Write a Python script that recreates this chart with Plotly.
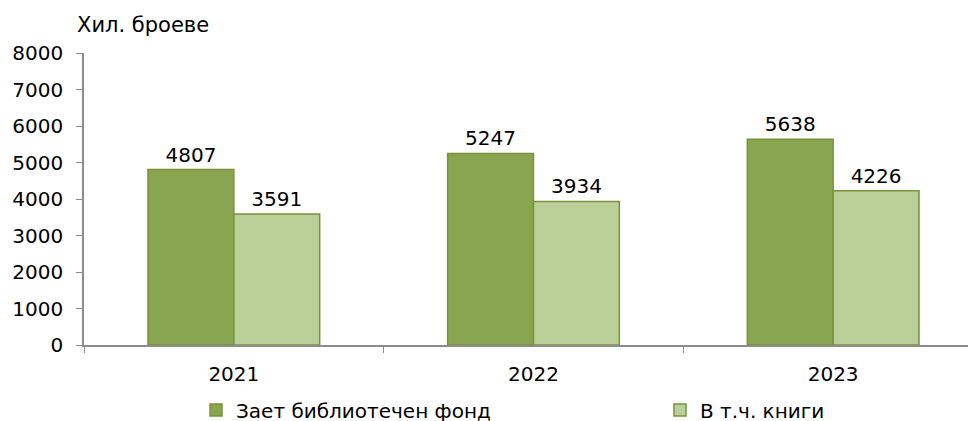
import plotly.graph_objects as go

years = ["2021", "2022", "2023"]
fund = [4807, 5247, 5638]
books = [3591, 3934, 4226]
series_names = ["Зает библиотечен фонд", "В т.ч. книги"]
y_title = "Хил. броеве"

FONT = "DejaVu Sans"
FS = 20
dark_fill = "#8AA54F"
light_fill = "#BBCF98"
edge = "#77933C"

fig = go.Figure()
fig.add_trace(go.Bar(
    x=years, y=fund, name=series_names[0], legend="legend",
    marker=dict(color=dark_fill, line=dict(color=edge, width=1.5)),
    text=[str(v) for v in fund], textposition="outside",
    textfont=dict(family=FONT, size=FS, color="#000"), cliponaxis=False,
))
fig.add_trace(go.Bar(
    x=years, y=books, name=series_names[1], legend="legend2",
    marker=dict(color=light_fill, line=dict(color=edge, width=1.5)),
    text=[str(v) for v in books], textposition="outside",
    textfont=dict(family=FONT, size=FS, color="#000"), cliponaxis=False,
))

leg_common = dict(
    orientation="h", xref="container", yref="container",
    y=0.026, xanchor="left", yanchor="middle",
    font=dict(family=FONT, size=FS, color="#000"),
    itemwidth=30, bgcolor="rgba(0,0,0,0)",
)

fig.update_layout(
    width=970, height=421,
    margin=dict(l=84, r=2, t=53, b=76, autoexpand=False),
    paper_bgcolor="white", plot_bgcolor="white",
    barmode="group", bargap=0.427, bargroupgap=0,
    font=dict(family=FONT, size=FS, color="#000"),
    showlegend=True,
    legend=dict(x=196 / 970, **leg_common),
    legend2=dict(x=660 / 970, **leg_common),
    annotations=[dict(
        text=y_title, xref="paper", yref="paper", x=-0.01, y=1.0,
        xanchor="left", yanchor="bottom", yshift=14, showarrow=False,
        font=dict(family=FONT, size=21, color="#000"),
    )],
)
fig.update_xaxes(
    type="category", range=[-0.5, 2.45],
    showline=True, linecolor="#8C8C8C", linewidth=1.5,
    ticks="outside", tickson="boundaries", ticklen=6, tickcolor="#8C8C8C",
    showgrid=False, ticklabelstandoff=10,
)
fig.update_yaxes(
    range=[0, 8000], dtick=1000,
    showline=True, linecolor="#8C8C8C", linewidth=1.5,
    ticks="outside", ticklen=6, tickcolor="#8C8C8C",
    showgrid=False, zeroline=False, ticklabelstandoff=9,
)

fig.write_html("out.html", config={"displayModeBar": False},
               post_script="document.body.style.margin='0';")
